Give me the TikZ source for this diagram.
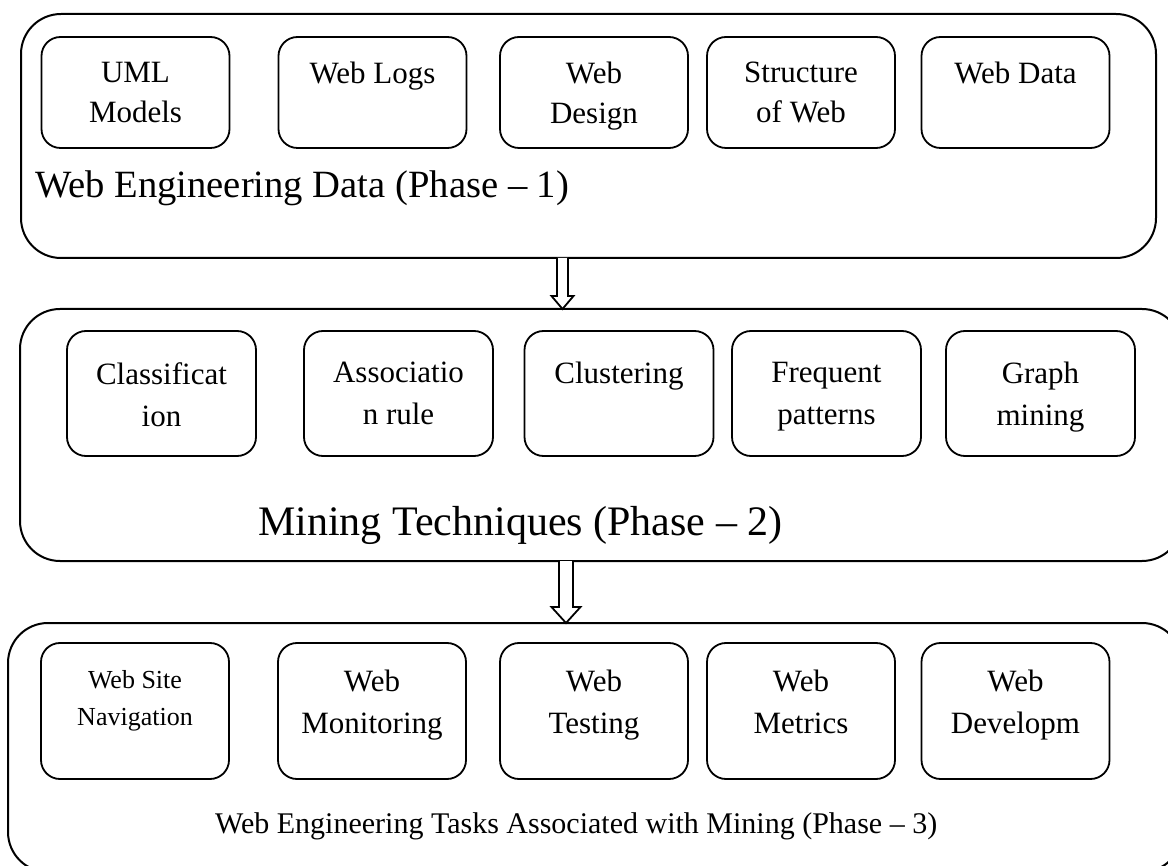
\documentclass[tikz,border=0pt]{standalone}
\usepackage{fontspec}
\setmainfont{Liberation Serif}

\tikzset{
  frame/.style={draw, line width=2pt, rounded corners=40pt, inner sep=0pt, outer sep=0pt},
  cell/.style={draw, line width=1.8pt, rounded corners=19pt, inner sep=0pt, outer sep=0pt},
  celltext/.style={anchor=north, align=center, inner sep=0pt, font=\fontsize{31}{42}\selectfont},
  phase/.style={anchor=base west, inner sep=0pt},
  arrowline/.style={draw, line width=1.8pt, fill=white, line join=miter},
}

\begin{document}
\begin{tikzpicture}[x=1pt, y=-1pt]
\useasboundingbox (0,0) rectangle (1168,866);

% ---------- Phase 1 ----------
\node[frame, minimum width=1135pt, minimum height=244pt] (p1) at (588.5,136) {};
\node[cell, minimum width=188pt, minimum height=111pt] (uml)  at (135.5,92.5) {};
\node[cell, minimum width=188pt, minimum height=111pt] (logs) at (372.5,92.5) {};
\node[cell, minimum width=188pt, minimum height=111pt] (wdes) at (594,92.5)   {};
\node[cell, minimum width=188pt, minimum height=111pt] (wstr) at (801,92.5)   {};
\node[cell, minimum width=188pt, minimum height=111pt] (wdat) at (1015.5,92.5) {};
\tikzset{row1/.style={celltext, font=\fontsize{31}{40}\selectfont}}
\node[row1] (umlT)  at ([yshift=-25pt]uml.north)  {UML\\Models};
\node[row1] (logsT) at ([yshift=-25pt]logs.north) {Web Logs};
\node[row1] (wdesT) at ([yshift=-25pt]wdes.north) {Web\\Design};
\node[row1] (wstrT) at ([yshift=-25pt]wstr.north) {Structure\\of Web};
\node[row1] (wdatT) at ([yshift=-25pt]wdat.north) {Web Data};
\node[phase, font=\fontsize{38.6}{46}\selectfont] (ph1) at (35,198) {Web Engineering Data (Phase – 1)};

% ---------- Phase 2 ----------
\node[frame, minimum width=1162pt, minimum height=252pt] (p2) at (601,435) {};
\node[cell, minimum width=189pt, minimum height=125pt] (clas) at (161.5,393.5) {};
\node[cell, minimum width=189pt, minimum height=125pt] (asso) at (398.5,393.5) {};
\node[cell, minimum width=189pt, minimum height=125pt] (clus) at (619,393.5)   {};
\node[cell, minimum width=189pt, minimum height=125pt] (freq) at (826.5,393.5) {};
\node[cell, minimum width=189pt, minimum height=125pt] (grph) at (1040.5,393.5) {};
\node[celltext] (clasT) at ([yshift=-31pt]clas.north) {Classificat\\ion};
\node[celltext] (assoT) at ([yshift=-31pt]asso.north) {Associatio\\n rule};
\node[celltext] (clusT) at ([yshift=-31pt]clus.north) {Clustering};
\node[celltext] (freqT) at ([yshift=-31pt]freq.north) {Frequent\\patterns};
\node[celltext] (grphT) at ([yshift=-31pt]grph.north) {Graph\\mining};
\node[phase, font=\fontsize{42}{50}\selectfont] (ph2) at (258,536) {Mining Techniques (Phase – 2)};

% ---------- Phase 3 ----------
\node[frame, minimum width=1174pt, minimum height=249pt] (p3) at (595,747.5) {};
\node[cell, minimum width=188pt, minimum height=136pt] (nav)  at (135,711)   {};
\node[cell, minimum width=188pt, minimum height=136pt] (mon)  at (372,711)   {};
\node[cell, minimum width=188pt, minimum height=136pt] (tst)  at (594,711)   {};
\node[cell, minimum width=188pt, minimum height=136pt] (met)  at (801,711)   {};
\node[cell, minimum width=188pt, minimum height=136pt] (dev)  at (1015.5,711) {};
\node[celltext, font=\fontsize{26}{37}\selectfont] (navT) at ([yshift=-27pt]nav.north) {Web Site\\Navigation};
\node[celltext] (monT) at ([yshift=-27pt]mon.north) {Web\\Monitoring};
\node[celltext] (tstT) at ([yshift=-27pt]tst.north) {Web\\Testing};
\node[celltext] (metT) at ([yshift=-27pt]met.north) {Web\\Metrics};
\node[celltext] (devT) at ([yshift=-27pt]dev.north) {Web\\Developm};
\node[phase, font=\fontsize{30}{36}\selectfont] (ph3) at (215,833) {Web Engineering Tasks Associated with Mining (Phase – 3)};

% ---------- hollow block arrows between the phases ----------
\coordinate (ax1) at (562.5,0);
\coordinate (ax2) at (566,0);
\path (ax1 |- p1.south) coordinate (a1t) (ax1 |- p2.north) coordinate (a1b);
\path (ax2 |- p2.south) coordinate (a2t) (ax2 |- p3.north) coordinate (a2b);
\draw[arrowline] ([xshift=-5.5pt]a1t) -- ([xshift=-5.5pt,yshift=13pt]a1b)
  -- ([xshift=-11pt,yshift=13pt]a1b) -- (a1b) -- ([xshift=11pt,yshift=13pt]a1b)
  -- ([xshift=5.5pt,yshift=13pt]a1b) -- ([xshift=5.5pt]a1t);
\draw[arrowline] ([xshift=-7pt]a2t) -- ([xshift=-7pt,yshift=16pt]a2b)
  -- ([xshift=-14.5pt,yshift=16pt]a2b) -- (a2b) -- ([xshift=14.5pt,yshift=16pt]a2b)
  -- ([xshift=7pt,yshift=16pt]a2b) -- ([xshift=7pt]a2t);
\end{tikzpicture}
\end{document}
